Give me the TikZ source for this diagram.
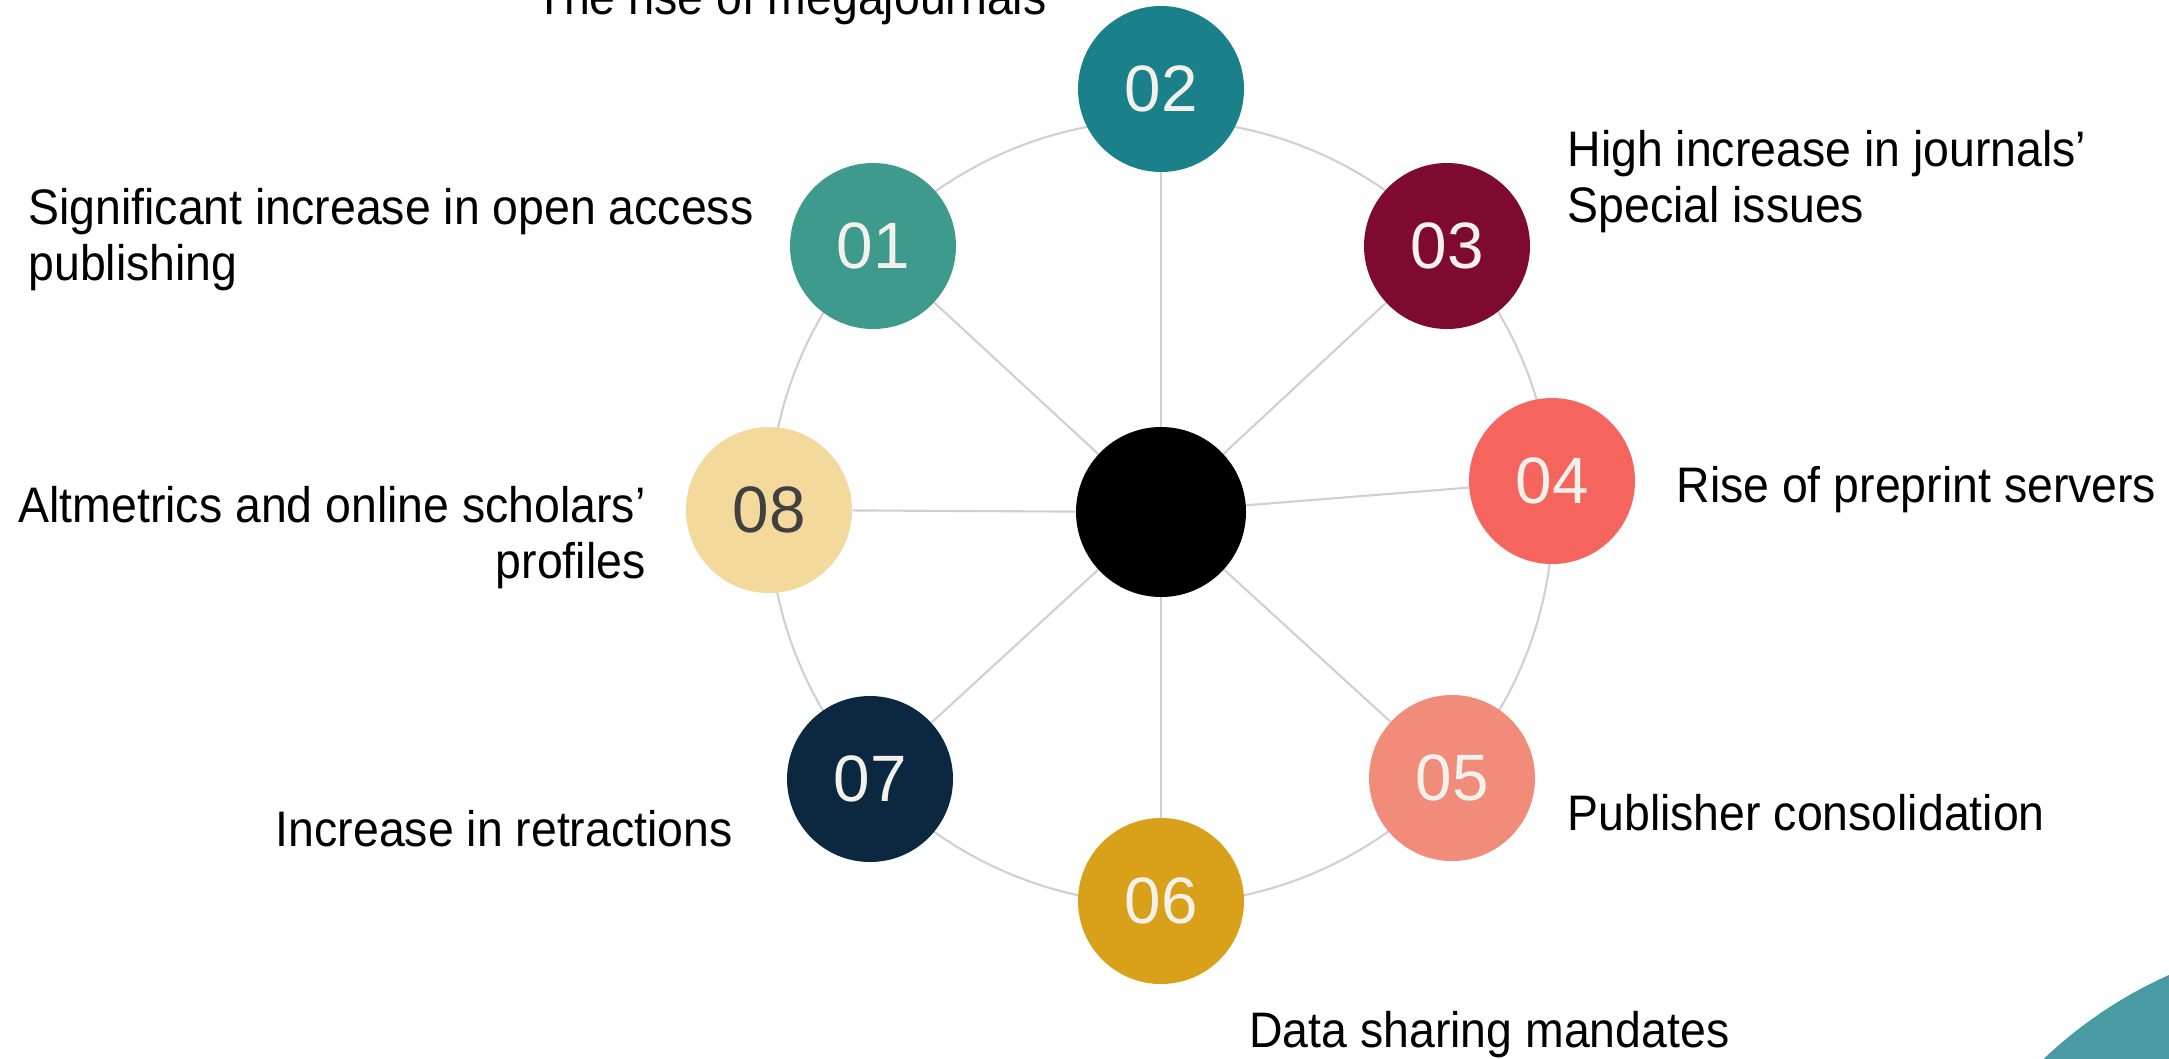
\documentclass[tikz,border=0pt]{standalone}
\usepackage{fontspec}
\setmainfont{Liberation Sans}[FakeStretch=0.93]
\newfontfamily\numfont{Liberation Sans}

\definecolor{ringgray}{HTML}{D0D0D0}
\definecolor{numtext}{HTML}{F3F1EC}
\definecolor{cA}{HTML}{3E9A8C}
\definecolor{cB}{HTML}{1A808A}
\definecolor{cC}{HTML}{7F0A30}
\definecolor{cD}{HTML}{F5645D}
\definecolor{cE}{HTML}{F28C7A}
\definecolor{cF}{HTML}{D9A01A}
\definecolor{cG}{HTML}{0B2840}
\definecolor{cH}{HTML}{F4D99C}
\definecolor{cornerteal}{HTML}{489BA3}

\begin{document}
\begin{tikzpicture}[x=0.015cm, y=-0.015cm,
	bubble/.style={circle, minimum size=2.49cm, inner sep=0pt, text=numtext,
		font=\numfont\fontsize{28}{28}\selectfont},
	spoke/.style={draw=ringgray, line width=0.9pt},
	txt/.style={font=\fontsize{21.3}{23.5}\selectfont, inner sep=0pt}]
		\useasboundingbox (0, 0) rectangle (2169, 1058);
		\begin{scope}
			\clip (0, 0) rectangle (2169, 1058);
			\fill[cornerteal] (2351, 1383) circle[radius=6.7cm];
		\end{scope}
		
		\node[circle, fill=black, minimum size=2.55cm, inner sep=0pt] (hub) at (1161, 512) {};
		\draw[spoke] (hub.center) circle[radius=5.88cm];
		
		\node[bubble, fill=cA] (b01) at (873, 246) {01};
		\node[bubble, fill=cB] (b02) at (1161, 89) {02};
		\node[bubble, fill=cC] (b03) at (1447, 246) {03};
		\node[bubble, fill=cD] (b04) at (1552, 481) {04};
		\node[bubble, fill=cE] (b05) at (1452, 778) {05};
		\node[bubble, fill=cF] (b06) at (1161, 901) {06};
		\node[bubble, fill=cG] (b07) at (870, 779) {07};
		\node[bubble, fill=cH, text=black!75] (b08) at (769, 510) {08};
		
		\foreach \i in {01, 02, 03, 04, 05, 06, 07, 08} \draw[spoke] (hub) -- (b\i);
		
		% two-line labels sit on their last line
		\node[txt, anchor=base east] (t02) at (1047, 14) {The rise of megajournals};
		\node[txt, anchor=base west, align=left] (t01) at (28, 280)
			{Significant increase in open access\\publishing};
		\node[txt, anchor=base west, align=left] (t03) at (1567, 222)
			{High increase in journals’\\Special issues};
		\node[txt, anchor=base west] (t04) at (1676, 502) {Rise of preprint servers};
		\node[txt, anchor=base west] (t05) at (1567, 830) {Publisher consolidation};
		\node[txt, anchor=base west] (t06) at (1249, 1047) {Data sharing mandates};
		\node[txt, anchor=base east] (t07) at (733, 846) {Increase in retractions};
		\node[txt, anchor=base east, align=right] (t08) at (646, 578)
			{Altmetrics and online scholars’\\profiles};
\end{tikzpicture}
\end{document}
